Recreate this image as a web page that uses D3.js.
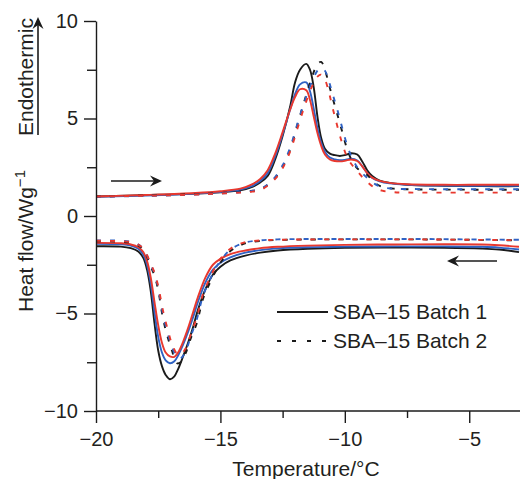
<!DOCTYPE html>
<html>
<head>
<meta charset="utf-8">
<script src="https://cdn.jsdelivr.net/npm/d3@7"></script>
<style>
  body { margin: 0; background: #fff; }
  text { font-family: "Liberation Sans", Arial, Helvetica, sans-serif; fill: #231f20; }
</style>
</head>
<body>
<div id="chart"></div>
<script>
// temperature grids (°C)
const heatSolidT = [-20, -18, -16, -15, -14.2, -13.8, -13.4, -13.1, -12.8, -12.5, -12.2, -12.0, -11.8, -11.55, -11.4, -11.25, -11.1, -10.95, -10.8, -10.6, -10.4, -10.2, -10.0, -9.75, -9.5, -9.3, -9.1, -8.9, -8.6, -8.2, -7.5, -6, -4.5, -3];
const heatDashT = [-20, -18, -16, -15, -14.2, -13.8, -13.4, -13.1, -12.8, -12.5, -12.2, -11.9, -11.6, -11.3, -11.1, -10.95, -10.8, -10.65, -10.5, -10.3, -10.1, -9.9, -9.7, -9.5, -9.3, -9.1, -8.8, -8.5, -8.0, -7, -5, -3];
const coolSolidT = [-20, -19, -18.6, -18.3, -18.1, -17.95, -17.8, -17.65, -17.5, -17.35, -17.2, -17.03, -16.85, -16.7, -16.5, -16.3, -16.1, -15.9, -15.6, -15.3, -15.0, -14.6, -14.0, -13.4, -12.7, -11.5, -10, -8, -6, -4.5, -3.8, -3];
const coolDashT = [-20, -19, -18.5, -18.2, -18.0, -17.8, -17.65, -17.5, -17.3, -17.1, -16.95, -16.75, -16.6, -16.4, -16.2, -15.95, -15.7, -15.45, -15.2, -15.0, -14.6, -14.2, -13.9, -13.4, -12.7, -11, -9, -7, -5, -3];

// heating runs (W/g)
const heatB1Black = [1.0, 1.07, 1.15, 1.22, 1.32, 1.45, 1.72, 2.05, 2.9, 4.1, 5.6, 6.85, 7.5, 7.8, 7.5, 6.6, 5.1, 4.0, 3.45, 3.2, 3.12, 3.08, 3.12, 3.22, 3.15, 2.8, 2.35, 2.05, 1.82, 1.7, 1.6, 1.55, 1.53, 1.53];
const heatB1Blue = [0.98, 1.05, 1.15, 1.23, 1.35, 1.5, 1.8, 2.2, 3.05, 4.2, 5.45, 6.25, 6.75, 6.85, 6.4, 5.5, 4.5, 3.75, 3.3, 3.0, 2.9, 2.86, 2.88, 2.94, 2.85, 2.55, 2.2, 1.95, 1.78, 1.67, 1.6, 1.56, 1.55, 1.55];
const heatB1Red = [1.0, 1.08, 1.18, 1.27, 1.4, 1.58, 1.9, 2.35, 3.2, 4.3, 5.45, 6.1, 6.5, 6.45, 5.95, 5.1, 4.25, 3.6, 3.15, 2.9, 2.82, 2.8, 2.83, 2.9, 2.82, 2.55, 2.2, 1.97, 1.8, 1.7, 1.63, 1.6, 1.6, 1.6];
const heatB2Black = [1.0, 1.05, 1.12, 1.18, 1.24, 1.28, 1.37, 1.6, 1.95, 2.5, 3.4, 4.7, 6.0, 7.2, 7.8, 7.9, 7.5, 6.8, 6.1, 5.2, 4.3, 3.4, 2.8, 2.45, 2.25, 2.1, 1.7, 1.5, 1.4, 1.36, 1.35, 1.35];
const heatB2Blue = [0.98, 1.03, 1.1, 1.16, 1.22, 1.27, 1.38, 1.62, 2.0, 2.6, 3.5, 4.75, 5.95, 6.95, 7.45, 7.6, 7.45, 6.95, 6.3, 5.45, 4.5, 3.6, 2.95, 2.5, 2.2, 1.95, 1.65, 1.48, 1.4, 1.38, 1.37, 1.37];
const heatB2Red = [1.0, 1.04, 1.1, 1.15, 1.2, 1.24, 1.33, 1.55, 1.9, 2.45, 3.3, 4.5, 5.7, 6.7, 7.15, 7.25, 7.0, 6.4, 5.6, 4.6, 3.7, 3.0, 2.6, 2.3, 2.0, 1.75, 1.45, 1.3, 1.22, 1.2, 1.2, 1.2];

// cooling runs (W/g)
const coolB1Black = [-1.55, -1.57, -1.65, -1.82, -2.15, -2.75, -3.85, -5.5, -6.9, -7.7, -8.15, -8.37, -8.22, -7.85, -7.2, -6.5, -5.7, -4.8, -3.75, -3.0, -2.6, -2.28, -2.03, -1.88, -1.77, -1.68, -1.63, -1.62, -1.63, -1.67, -1.72, -1.85];
const coolB1Blue = [-1.42, -1.45, -1.52, -1.68, -1.98, -2.5, -3.45, -4.9, -6.2, -7.0, -7.4, -7.55, -7.45, -7.15, -6.6, -5.95, -5.2, -4.4, -3.4, -2.75, -2.4, -2.12, -1.88, -1.75, -1.66, -1.6, -1.57, -1.56, -1.56, -1.58, -1.62, -1.72];
const coolB1Red = [-1.38, -1.4, -1.46, -1.6, -1.85, -2.3, -3.15, -4.4, -5.6, -6.5, -7.0, -7.2, -7.22, -7.0, -6.45, -5.75, -4.95, -4.15, -3.15, -2.5, -2.2, -1.95, -1.77, -1.65, -1.58, -1.52, -1.48, -1.46, -1.45, -1.46, -1.5, -1.58];
const coolB2Black = [-1.3, -1.32, -1.4, -1.6, -1.95, -2.6, -3.05, -3.8, -5.3, -6.3, -6.9, -7.55, -7.5, -7.05, -6.3, -5.5, -4.25, -3.5, -2.85, -2.4, -1.8, -1.5, -1.37, -1.28, -1.23, -1.2, -1.2, -1.2, -1.22, -1.25];
const coolB2Blue = [-1.25, -1.27, -1.35, -1.55, -1.9, -2.5, -2.95, -3.7, -5.1, -6.1, -6.7, -7.25, -7.3, -6.95, -6.2, -5.3, -4.1, -3.35, -2.7, -2.3, -1.72, -1.45, -1.33, -1.25, -1.2, -1.18, -1.18, -1.18, -1.2, -1.22];
const coolB2Red = [-1.27, -1.29, -1.36, -1.55, -1.88, -2.45, -2.9, -3.6, -4.9, -5.9, -6.55, -7.05, -7.1, -6.8, -6.1, -5.2, -4.0, -3.25, -2.6, -2.2, -1.68, -1.42, -1.32, -1.25, -1.22, -1.2, -1.2, -1.2, -1.22, -1.24];

// axis ticks and legend labels
const xMajorTicks = [-20, -15, -10, -5];
const xMinorTicks = [-17.5, -12.5, -7.5];
const yMajorTicks = [-10, -5, 0, 5, 10];
const yMinorTicks = [-7.5, -2.5, 2.5, 7.5];
const legendLabels = ["SBA\u201315 Batch 1", "SBA\u201315 Batch 2"];

const BLACK = "#1b1b1b";
const BLUE = "#2f62c4";
const RED = "#e8382e";
const DASH = "5,9";

const series = [
  { t: heatSolidT, h: heatB1Black, color: BLACK, dash: null },
  { t: heatSolidT, h: heatB1Blue, color: BLUE, dash: null },
  { t: heatSolidT, h: heatB1Red, color: RED, dash: null },
  { t: heatDashT, h: heatB2Black, color: BLACK, dash: DASH },
  { t: heatDashT, h: heatB2Blue, color: BLUE, dash: DASH },
  { t: heatDashT, h: heatB2Red, color: RED, dash: DASH },
  { t: coolSolidT, h: coolB1Black, color: BLACK, dash: null },
  { t: coolSolidT, h: coolB1Blue, color: BLUE, dash: null },
  { t: coolSolidT, h: coolB1Red, color: RED, dash: null },
  { t: coolDashT, h: coolB2Black, color: BLACK, dash: DASH },
  { t: coolDashT, h: coolB2Blue, color: BLUE, dash: DASH },
  { t: coolDashT, h: coolB2Red, color: RED, dash: DASH },
];

const width = 520;
const height = 479;

const x = d3.scaleLinear().domain([-20, -3]).range([96, 519]);
const y = d3.scaleLinear().domain([-10, 10]).range([411, 21]);

const svg = d3.select("#chart").append("svg")
  .attr("width", width)
  .attr("height", height);

svg.append("defs").append("clipPath").attr("id", "plot")
  .append("rect")
  .attr("x", 96).attr("y", 0)
  .attr("width", width - 96).attr("height", 411);

// curves
const line = d3.line()
  .x(d => x(d[0]))
  .y(d => y(d[1]))
  .curve(d3.curveCatmullRom.alpha(0.5));

svg.append("g").attr("clip-path", "url(#plot)")
  .selectAll("path")
  .data(series)
  .join("path")
  .attr("d", s => line(s.t.map((t, i) => [t, s.h[i]])))
  .attr("fill", "none")
  .attr("stroke", s => s.color)
  .attr("stroke-width", 1.9)
  .attr("stroke-dasharray", s => s.dash);

// axes
function styleAxis(g) {
  g.selectAll(".domain, .tick line").attr("stroke", BLACK).attr("stroke-width", 1.4);
  g.selectAll("text").attr("font-size", 20).attr("fill", "#231f20")
    .attr("font-family", "Liberation Sans, Arial, sans-serif");
}

svg.append("g")
  .attr("transform", "translate(0,411)")
  .call(d3.axisBottom(x).tickValues(xMajorTicks).tickSize(12).tickPadding(9).tickSizeOuter(0))
  .call(styleAxis)
  .call(g => g.select(".domain").attr("d", "M96,0H520"));

svg.append("g")
  .attr("transform", "translate(0,411)")
  .call(d3.axisBottom(x).tickValues(xMinorTicks).tickSize(7).tickFormat(""))
  .call(g => g.select(".domain").remove())
  .call(styleAxis);

svg.append("g")
  .attr("transform", "translate(96,0)")
  .call(d3.axisLeft(y).tickValues(yMajorTicks).tickSize(12).tickPadding(6).tickSizeOuter(0))
  .call(styleAxis);

svg.append("g")
  .attr("transform", "translate(96,0)")
  .call(d3.axisLeft(y).tickValues(yMinorTicks).tickSize(9).tickFormat(""))
  .call(g => g.select(".domain").remove())
  .call(styleAxis);

// axis titles
svg.append("text")
  .attr("x", 306).attr("y", 476)
  .attr("text-anchor", "middle")
  .attr("font-size", 21)
  .text("Temperature/\u00B0C");

const yTitle = svg.append("text")
  .attr("transform", "translate(33,241) rotate(-90)")
  .attr("text-anchor", "middle")
  .attr("font-size", 21);
yTitle.append("tspan").text("Heat flow/Wg");
yTitle.append("tspan").attr("dy", -8).attr("font-size", 15).text("\u22121");

svg.append("text")
  .attr("transform", "translate(33,136) rotate(-90)")
  .attr("text-anchor", "start")
  .attr("font-size", 21)
  .text("Endothermic");

// arrow helper
function arrow(x1, y1, x2, y2) {
  const a = Math.atan2(y2 - y1, x2 - x1);
  const L = 12, W = 5.5, back = 8;
  const ux = Math.cos(a), uy = Math.sin(a);
  const px = -uy, py = ux;
  svg.append("line")
    .attr("x1", x1).attr("y1", y1)
    .attr("x2", x2 - ux * back).attr("y2", y2 - uy * back)
    .attr("stroke", BLACK).attr("stroke-width", 1.6);
  const bx = x2 - ux * L, by = y2 - uy * L;
  svg.append("path")
    .attr("d", `M${x2},${y2}L${bx + px * W},${by + py * W}L${x2 - ux * back},${y2 - uy * back}L${bx - px * W},${by - py * W}Z`)
    .attr("fill", BLACK);
}

arrow(38, 135, 38, 17);
arrow(111, 181, 162, 181);
arrow(497, 261, 447, 261);

// legend
const legend = svg.append("g");
legendLabels.forEach((label, i) => {
  const ly = 312 + i * 29;
  legend.append("line")
    .attr("x1", 277).attr("x2", 328)
    .attr("y1", ly).attr("y2", ly)
    .attr("stroke", BLACK)
    .attr("stroke-width", 1.8)
    .attr("stroke-dasharray", i === 0 ? null : "4,11");
  legend.append("text")
    .attr("x", 333).attr("y", ly + 7)
    .attr("font-size", 21)
    .text(label);
});
</script>
</body>
</html>
